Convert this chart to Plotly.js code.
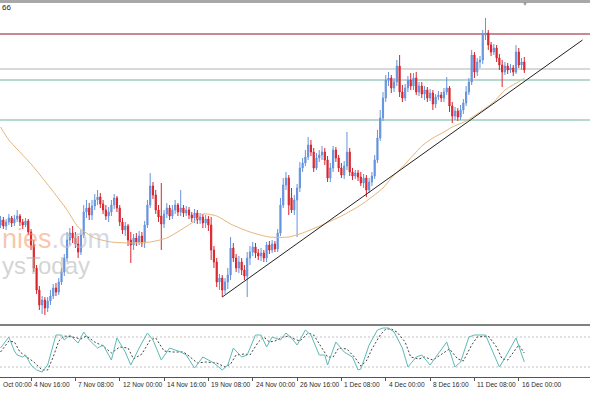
<!DOCTYPE html>
<html><head><meta charset="utf-8">
<script src="https://cdn.plot.ly/plotly-3.0.1.min.js"></script>
<style>html,body{margin:0;padding:0;background:#fff;}#chart{width:590px;height:393px;}</style>
</head><body><div id="chart"></div>
<script>
// ---- price data (H4 candles, bar index 0..189) ----
const openP = [
1.1095,1.1100,1.1094,1.1098,1.1102,1.1097,1.1101,1.1104,1.1098,1.1095,
1.1099,1.1088,1.1075,1.1052,1.1030,1.1015,1.1020,1.1012,1.1019,1.1024,
1.1032,1.1028,1.1038,1.1048,1.1062,1.1080,1.1087,1.1082,1.1076,1.1068,
1.1085,1.1108,1.1112,1.1105,1.1114,1.1120,1.1123,1.1116,1.1110,1.1104,
1.1108,1.1115,1.1122,1.1112,1.1098,1.1090,1.1094,1.1080,1.1075,1.1082,
1.1078,1.1084,1.1077,1.1095,1.1115,1.1134,1.1125,1.1110,1.1104,1.1096,
1.1106,1.1112,1.1104,1.1110,1.1115,1.1108,1.1112,1.1107,1.1110,1.1105,
1.1102,1.1107,1.1100,1.1103,1.1097,1.1101,1.1095,1.1070,1.1058,1.1038,
1.1042,1.1030,1.1038,1.1045,1.1072,1.1062,1.1052,1.1058,1.1050,1.1044,
1.1062,1.1068,1.1073,1.1067,1.1064,1.1067,1.1062,1.1075,1.1070,1.1076,
1.1071,1.1087,1.1115,1.1135,1.1142,1.1122,1.1110,1.1120,1.1132,1.1152,
1.1157,1.1163,1.1175,1.1168,1.1152,1.1162,1.1165,1.1168,1.1160,1.1142,
1.1152,1.1170,1.1162,1.1152,1.1145,1.1154,1.1168,1.1148,1.1144,1.1147,
1.1143,1.1137,1.1142,1.1130,1.1138,1.1144,1.1160,1.1182,1.1202,1.1222,
1.1240,1.1242,1.1232,1.1238,1.1254,1.1228,1.1222,1.1232,1.1240,1.1234,
1.1242,1.1228,1.1234,1.1226,1.1230,1.1222,1.1227,1.1216,1.1223,1.1225,
1.1222,1.1228,1.1232,1.1214,1.1204,1.1209,1.1203,1.1210,1.1217,1.1228,
1.1238,1.1265,1.1248,1.1258,1.1260,1.1285,1.1287,1.1275,1.1268,1.1272,
1.1262,1.1255,1.1248,1.1254,1.1250,1.1252,1.1248,1.1268,1.1255,1.1258];
const closeP = [
1.1100,1.1094,1.1098,1.1102,1.1097,1.1101,1.1104,1.1098,1.1095,1.1099,
1.1088,1.1075,1.1052,1.1030,1.1015,1.1020,1.1012,1.1019,1.1024,1.1032,
1.1028,1.1038,1.1048,1.1062,1.1080,1.1087,1.1082,1.1076,1.1068,1.1085,
1.1108,1.1112,1.1105,1.1114,1.1120,1.1123,1.1116,1.1110,1.1104,1.1108,
1.1115,1.1122,1.1112,1.1098,1.1090,1.1094,1.1080,1.1075,1.1082,1.1078,
1.1084,1.1077,1.1095,1.1115,1.1134,1.1125,1.1110,1.1103,1.1096,1.1106,
1.1112,1.1104,1.1110,1.1115,1.1108,1.1112,1.1107,1.1110,1.1105,1.1102,
1.1107,1.1100,1.1103,1.1097,1.1101,1.1095,1.1070,1.1058,1.1038,1.1042,
1.1030,1.1038,1.1045,1.1072,1.1062,1.1052,1.1058,1.1050,1.1044,1.1062,
1.1068,1.1073,1.1067,1.1064,1.1067,1.1062,1.1075,1.1070,1.1076,1.1071,
1.1087,1.1115,1.1135,1.1142,1.1115,1.1110,1.1120,1.1132,1.1152,1.1157,
1.1163,1.1175,1.1168,1.1152,1.1162,1.1165,1.1168,1.1160,1.1142,1.1152,
1.1170,1.1162,1.1152,1.1145,1.1154,1.1168,1.1148,1.1144,1.1147,1.1143,
1.1137,1.1142,1.1130,1.1138,1.1144,1.1160,1.1182,1.1202,1.1222,1.1240,
1.1242,1.1232,1.1238,1.1254,1.1228,1.1222,1.1232,1.1240,1.1234,1.1242,
1.1228,1.1234,1.1226,1.1230,1.1222,1.1227,1.1216,1.1223,1.1225,1.1222,
1.1228,1.1232,1.1214,1.1204,1.1209,1.1203,1.1210,1.1217,1.1228,1.1238,
1.1265,1.1248,1.1258,1.1260,1.1285,1.1287,1.1275,1.1268,1.1272,1.1262,
1.1255,1.1248,1.1254,1.1250,1.1252,1.1248,1.1268,1.1255,1.1258,1.1250];
const highP = [
1.1104,1.1103,1.1101,1.1106,1.1104,1.1105,1.1110,1.1106,1.1101,1.1102,
1.1101,1.1091,1.1080,1.1055,1.1034,1.1024,1.1023,1.1023,1.1030,1.1036,
1.1037,1.1042,1.1052,1.1066,1.1088,1.1092,1.1094,1.1088,1.1084,1.1090,
1.1115,1.1120,1.1117,1.1120,1.1126,1.1130,1.1127,1.1120,1.1115,1.1113,
1.1120,1.1126,1.1124,1.1115,1.1102,1.1098,1.1096,1.1088,1.1086,1.1087,
1.1089,1.1088,1.1099,1.1120,1.1147,1.1138,1.1130,1.1115,1.1137,1.1110,
1.1117,1.1115,1.1115,1.1120,1.1117,1.1130,1.1115,1.1114,1.1113,1.1108,
1.1111,1.1110,1.1107,1.1106,1.1105,1.1104,1.1103,1.1074,1.1062,1.1046,
1.1045,1.1042,1.1052,1.1083,1.1077,1.1066,1.1064,1.1062,1.1055,1.1068,
1.1074,1.1078,1.1077,1.1071,1.1072,1.1070,1.1078,1.1079,1.1080,1.1079,
1.1091,1.1122,1.1142,1.1148,1.1145,1.1132,1.1125,1.1136,1.1158,1.1162,
1.1170,1.1183,1.1180,1.1172,1.1167,1.1170,1.1174,1.1172,1.1164,1.1157,
1.1174,1.1173,1.1165,1.1157,1.1159,1.1188,1.1172,1.1152,1.1150,1.1150,
1.1148,1.1146,1.1145,1.1142,1.1148,1.1165,1.1190,1.1210,1.1228,1.1245,
1.1248,1.1245,1.1242,1.1260,1.1265,1.1235,1.1236,1.1244,1.1247,1.1247,
1.1248,1.1238,1.1238,1.1234,1.1233,1.1231,1.1230,1.1226,1.1229,1.1228,
1.1232,1.1243,1.1234,1.1218,1.1213,1.1212,1.1215,1.1221,1.1234,1.1242,
1.1270,1.1268,1.1262,1.1264,1.1290,1.1302,1.1290,1.1278,1.1276,1.1275,
1.1266,1.1260,1.1258,1.1257,1.1256,1.1255,1.1275,1.1272,1.1262,1.1263];
const lowP = [
1.1092,1.1091,1.1090,1.1095,1.1093,1.1094,1.1098,1.1094,1.1091,1.1093,
1.1085,1.1070,1.1048,1.1026,1.1010,1.1006,1.1005,1.1008,1.1015,1.1021,
1.1024,1.1025,1.1035,1.1044,1.1058,1.1075,1.1077,1.1072,1.1062,1.1065,
1.1082,1.1102,1.1100,1.1100,1.1110,1.1115,1.1112,1.1106,1.1100,1.1098,
1.1104,1.1111,1.1108,1.1094,1.1086,1.1084,1.1074,1.1057,1.1070,1.1074,
1.1075,1.1073,1.1072,1.1092,1.1112,1.1121,1.1106,1.1098,1.1070,1.1092,
1.1102,1.1100,1.1101,1.1106,1.1104,1.1104,1.1103,1.1104,1.1101,1.1098,
1.1097,1.1096,1.1096,1.1092,1.1092,1.1089,1.1060,1.1052,1.1033,1.1030,
1.1023,1.1026,1.1031,1.1040,1.1058,1.1048,1.1047,1.1045,1.1040,1.1023,
1.1055,1.1064,1.1062,1.1060,1.1059,1.1058,1.1058,1.1066,1.1067,1.1068,
1.1068,1.1084,1.1112,1.1130,1.1105,1.1107,1.1105,1.1083,1.1128,1.1148,
1.1154,1.1160,1.1164,1.1148,1.1150,1.1158,1.1160,1.1155,1.1138,1.1138,
1.1148,1.1158,1.1148,1.1142,1.1141,1.1150,1.1144,1.1140,1.1141,1.1139,
1.1134,1.1132,1.1123,1.1127,1.1134,1.1141,1.1157,1.1179,1.1199,1.1218,
1.1234,1.1227,1.1228,1.1234,1.1223,1.1218,1.1219,1.1228,1.1230,1.1230,
1.1225,1.1224,1.1222,1.1220,1.1218,1.1219,1.1210,1.1212,1.1220,1.1218,
1.1218,1.1225,1.1208,1.1197,1.1200,1.1199,1.1200,1.1206,1.1214,1.1225,
1.1235,1.1242,1.1244,1.1252,1.1256,1.1280,1.1270,1.1264,1.1265,1.1258,
1.1250,1.1233,1.1245,1.1246,1.1247,1.1244,1.1246,1.1252,1.1250,1.1247];

// moving average (read at selected bars)
const maIdx = [0,3,11,18,24,28,34,40,47,54,60,65,70,73,78,83,90,97,104,109,116,123,130,138,141,145,149,152,156,160,163,168,173,178,182,188,189];
const maVal = [1.1193,1.1180,1.1156,1.1132,1.1110,1.1093,1.1082,1.1078,1.1077,1.1078,1.1082,1.1090,1.1099,1.1106,1.1104,1.1096,1.1088,1.1083,1.1083,1.1087,1.1095,1.1104,1.1115,1.1132,1.1142,1.1153,1.1165,1.1174,1.1182,1.1188,1.1193,1.1199,1.1208,1.1218,1.1230,1.1240,1.1242];

// trend line
const trendIdx = [80, 210];
const trendVal = [1.1023, 1.1280];

// horizontal levels
const levelRed = 1.1286;
const levelGray = 1.1251;
const levelTeal = [1.1240, 1.1200];

// stochastic oscillator
const kIdx = [0,2,3,5,6,8,9,11,13,15,17,19,20,22,23,25,28,30,32,35,37,40,42,45,47,50,53,55,58,61,65,67,70,73,77,80,82,84,87,89,92,94,96,98,101,103,105,107,110,112,115,117,118,121,124,127,129,130,133,136,138,140,142,145,147,150,152,155,161,164,166,169,171,175,178,180,182,186,189];
const kVal = [58,72,80,52,44,40,44,24,14,10,24,64,84,84,74,84,68,90,74,58,64,34,78,50,24,58,88,74,34,58,50,44,18,40,28,14,24,58,40,44,84,84,60,80,74,88,78,64,94,84,44,44,24,70,50,40,14,16,64,94,98,98,90,58,20,40,44,24,70,20,30,80,84,84,44,20,38,78,30];
const dIdx = [0,3,5,7,9,12,15,17,19,21,23,26,29,31,34,37,40,43,46,48,51,54,56,59,62,66,68,71,74,78,81,83,85,88,90,93,95,97,99,102,104,106,108,111,113,116,118,120,122,125,128,130,132,134,137,139,141,143,146,148,151,153,156,162,165,167,170,172,176,179,181,183,187,189];
const dVal = [50,72,70,50,42,30,14,14,40,72,82,80,76,82,70,62,48,60,58,36,46,74,78,52,50,50,42,28,30,28,20,26,44,46,44,70,80,70,72,80,82,76,72,88,84,56,40,40,58,56,38,22,32,56,84,96,96,90,70,40,36,40,34,56,36,32,64,80,82,60,36,34,64,48];
const stochLevels = [20, 80];

// time axis labels (first one is only partly in view in the original, shown as its visible part)
const tickIdx = [-5,11,27,43,59,75,91,107,123,139,155,171,187];
const tickText = ['Oct 00:00','4 Nov 16:00','7 Nov 08:00','12 Nov 00:00','14 Nov 16:00','19 Nov 08:00','24 Nov 00:00','26 Nov 16:00','1 Dec 08:00','4 Dec 00:00','8 Dec 16:00','11 Dec 08:00','16 Dec 00:00'];

const barIdx = openP.map((_, i) => i);
const xRange = [-0.2, 212.7];
const pxPerBar = 590 / (xRange[1] - xRange[0]);
const H = 393;
const py = p => (H - p) / H;   // pixel row -> paper fraction

const traces = [
  {type:'candlestick', x:barIdx, open:openP, high:highP, low:lowP, close:closeP,
   xaxis:'x', yaxis:'y', whiskerwidth:0, hoverinfo:'skip',
   increasing:{line:{color:'#6593dd', width:1}, fillcolor:'#6593dd'},
   decreasing:{line:{color:'#d9252d', width:1}, fillcolor:'#d9252d'}},
  {type:'scatter', mode:'lines', x:maIdx, y:maVal, xaxis:'x', yaxis:'y',
   line:{color:'#e6b57a', width:1, shape:'spline', smoothing:0.6}, hoverinfo:'skip'},
  {type:'scatter', mode:'lines', x:trendIdx, y:trendVal, xaxis:'x', yaxis:'y',
   line:{color:'#222', width:1}, hoverinfo:'skip'},
  {type:'scatter', mode:'lines', x:dIdx, y:dVal, xaxis:'x', yaxis:'y2',
   line:{color:'#444', width:1, dash:'2px,2px'}, hoverinfo:'skip'},
  {type:'scatter', mode:'lines', x:kIdx, y:kVal, xaxis:'x', yaxis:'y2',
   line:{color:'#5dbab5', width:1}, hoverinfo:'skip'}
];

const shapes = [
  {type:'line', xref:'paper', x0:0, x1:1, yref:'y', y0:levelRed, y1:levelRed, layer:'below', line:{color:'#b8606c', width:1.3}},
  {type:'line', xref:'paper', x0:0, x1:1, yref:'y', y0:levelGray, y1:levelGray, layer:'below', line:{color:'#d9d9d9', width:2}},
  ...levelTeal.map(v => ({type:'line', xref:'paper', x0:0, x1:1, yref:'y', y0:v, y1:v, layer:'below', line:{color:'#9fcbbf', width:1.5}})),
  ...stochLevels.map(v => ({type:'line', xref:'paper', x0:0, x1:1, yref:'y2', y0:v, y1:v, layer:'below', line:{color:'#c4c4c4', width:1, dash:'2px,2px'}})),
  {type:'line', xref:'paper', x0:0, x1:1, yref:'paper', y0:py(1.5), y1:py(1.5), line:{color:'#a8a8a8', width:3}},
  {type:'line', xref:'paper', x0:0, x1:1, yref:'paper', y0:py(325), y1:py(325), line:{color:'#808080', width:2}}
];

const annotations = [
  ...tickIdx.map((t, j) => {
    const xa = Math.max(t, 0);
    const shift = t < 0 ? 0 : 1;
    return {xref:'x', x:xa, xshift:shift, xanchor:'left',
            yref:'paper', y:py(384), yanchor:'middle', showarrow:false,
            text:tickText[j], font:{family:'Liberation Sans, Arial, sans-serif', size:6.6, color:'#2a2a2a'}};
  }),
  {xref:'paper', x:0, xanchor:'left', yref:'paper', y:py(8), yanchor:'middle', showarrow:false,
   text:'66', font:{family:'Liberation Sans, Arial, sans-serif', size:8, color:'#222'}},
  {xref:'paper', x:525/590, xanchor:'center', yref:'paper', y:py(4), yanchor:'middle', showarrow:false,
   text:'▼', font:{size:6, color:'#999'}},
  {xref:'paper', x:0, xanchor:'left', yref:'paper', y:py(239), yanchor:'middle', showarrow:false,
   text:'<span style="color:rgba(243,150,105,0.55)">nies</span><span style="color:rgba(185,192,205,0.6)">.com</span>',
   font:{family:'Liberation Sans, Arial, sans-serif', size:27}},
  {xref:'paper', x:0, xanchor:'left', yref:'paper', y:py(265), yanchor:'middle', showarrow:false,
   text:'ysToday', font:{family:'Liberation Sans, Arial, sans-serif', size:24, color:'rgba(175,175,175,0.55)'}}
];

const layout = {
  width:590, height:393, margin:{l:0, r:0, t:0, b:0},
  paper_bgcolor:'#ffffff', plot_bgcolor:'#ffffff', showlegend:false, boxgap:0.4,
  xaxis:{range:xRange, anchor:'y2', showgrid:false, zeroline:false, showline:true,
         linecolor:'#555', linewidth:1, ticks:'outside', ticklen:3, tickcolor:'#555',
         tickvals:tickIdx, showticklabels:false, rangeslider:{visible:false}, fixedrange:true},
  yaxis:{domain:[py(324), py(3)], range:[1.0996, 1.1317], visible:false, fixedrange:true},
  yaxis2:{domain:[py(377), py(327)], range:[0, 100], visible:false, fixedrange:true},
  shapes:shapes, annotations:annotations
};

Plotly.newPlot('chart', traces, layout, {staticPlot:true, displayModeBar:false});
</script>
</body></html>
